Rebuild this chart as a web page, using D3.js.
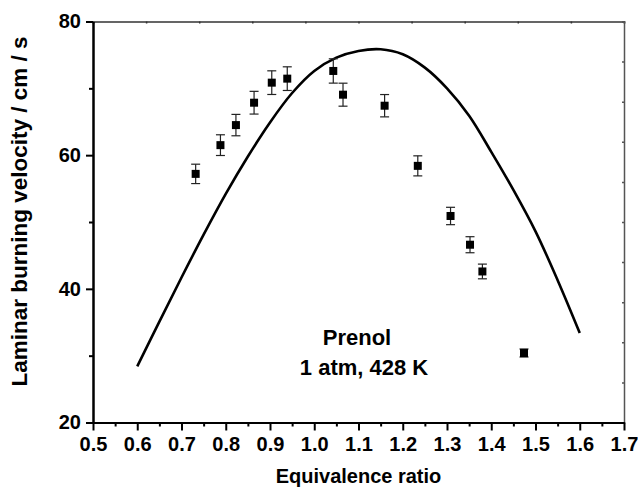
<!DOCTYPE html>
<html>
<head>
<meta charset="utf-8">
<script src="https://cdn.jsdelivr.net/npm/d3@7"></script>
<style>
  body { margin: 0; background: #fff; }
  svg { display: block; }
  text { font-family: Arial, "Liberation Sans", Helvetica, sans-serif; font-weight: bold; fill: #000; }
</style>
</head>
<body>
<div id="chart"></div>
<script>
// measured points (equivalence ratio, burning velocity, error)
const phiExp = [0.732, 0.788, 0.823, 0.864, 0.904, 0.939, 1.043, 1.065, 1.159, 1.234, 1.308, 1.352, 1.380, 1.474];
const suExp  = [57.2, 61.5, 64.5, 67.85, 70.85, 71.45, 72.6, 69.05, 67.4, 58.4, 50.9, 46.6, 42.6, 30.4];
const suErr  = [1.45, 1.55, 1.6, 1.7, 1.77, 1.77, 1.82, 1.72, 1.67, 1.5, 1.3, 1.2, 1.1, 0.6];

// model curve
const phiModel = [0.60, 0.65, 0.70, 0.75, 0.80, 0.85, 0.90, 0.95, 1.00, 1.05, 1.10, 1.15, 1.20, 1.25, 1.30, 1.35, 1.40, 1.45, 1.50, 1.55, 1.60];
const suModel  = [28.4, 35.1, 41.7, 48.1, 54.2, 59.8, 64.9, 69.3, 72.6, 74.6, 75.6, 75.85, 75.1, 73.1, 70.0, 65.9, 60.5, 54.8, 48.6, 41.3, 33.4];

const xTicks = [0.5, 0.6, 0.7, 0.8, 0.9, 1.0, 1.1, 1.2, 1.3, 1.4, 1.5, 1.6, 1.7];
const yTicks = [20, 40, 60, 80];

const width = 638, height = 488;
const margin = {top: 21.5, right: 14, bottom: 65.5, left: 93};

const svg = d3.select("#chart").append("svg")
  .attr("width", width)
  .attr("height", height);

const x = d3.scaleLinear().domain([0.5, 1.7]).range([margin.left, width - margin.right]);
const y = d3.scaleLinear().domain([20, 80]).range([height - margin.bottom, margin.top]);

// top and right frame with small inner ticks
const frac = d3.scaleLinear().domain([0, 10]);
const xF = frac.copy().range(x.range());
const yF = frac.copy().range(y.range());

svg.append("g")
  .attr("transform", `translate(0,${margin.top})`)
  .call(d3.axisTop(xF).ticks(10).tickSize(-2).tickFormat(""))
  .call(g => g.selectAll("path,line").attr("stroke", "#333").attr("stroke-width", 1.5));

svg.append("g")
  .attr("transform", `translate(${width - margin.right},0)`)
  .call(d3.axisRight(yF).ticks(10).tickSize(-2).tickFormat(""))
  .call(g => g.selectAll("path,line").attr("stroke", "#555").attr("stroke-width", 1.5));

// bottom axis: minor ticks then major ticks with labels
svg.append("g")
  .attr("transform", `translate(0,${y(20)})`)
  .call(d3.axisBottom(x).tickValues(d3.range(0.55, 1.7, 0.1)).tickSize(4).tickSizeOuter(0).tickFormat(""))
  .call(g => g.selectAll("path,line").attr("stroke", "#000").attr("stroke-width", 2));

svg.append("g")
  .attr("transform", `translate(0,${y(20)})`)
  .call(d3.axisBottom(x).tickValues(xTicks).tickSize(8).tickSizeOuter(0).tickPadding(6).tickFormat(d3.format(".1f")))
  .call(g => g.selectAll("path,line").attr("stroke", "#000").attr("stroke-width", 2))
  .call(g => g.selectAll("text").attr("font-size", 20).attr("font-family", null));

// left axis
svg.append("g")
  .attr("transform", `translate(${x(0.5)},0)`)
  .call(d3.axisLeft(y).tickValues([30, 50, 70]).tickSize(4).tickSizeOuter(0).tickFormat(""))
  .call(g => g.selectAll("path,line").attr("stroke", "#000").attr("stroke-width", 2));

svg.append("g")
  .attr("transform", `translate(${x(0.5)},0)`)
  .call(d3.axisLeft(y).tickValues(yTicks).tickSize(7).tickSizeOuter(0).tickPadding(5))
  .call(g => g.selectAll("path,line").attr("stroke", "#000").attr("stroke-width", 2))
  .call(g => g.selectAll("text").attr("font-size", 20).attr("font-family", null));

// axis titles
svg.append("text")
  .attr("x", (margin.left + width - margin.right) / 2)
  .attr("y", 483)
  .attr("text-anchor", "middle")
  .attr("font-size", 20)
  .text("Equivalence ratio");

svg.append("text")
  .attr("transform", "translate(27,211.5) rotate(-90)")
  .attr("text-anchor", "middle")
  .attr("font-size", 22.5)
  .text("Laminar burning velocity / cm / s");

// model line
const model = phiModel.map((p, i) => [p, suModel[i]]);
svg.append("path")
  .datum(model)
  .attr("fill", "none")
  .attr("stroke", "#000")
  .attr("stroke-width", 2.6)
  .attr("d", d3.line().x(d => x(d[0])).y(d => y(d[1])).curve(d3.curveCatmullRom));

// experiments with error bars
const pts = phiExp.map((p, i) => ({phi: p, su: suExp[i], err: suErr[i]}));
const eb = svg.append("g").attr("stroke", "#222").attr("stroke-width", 1.2);
eb.selectAll("line.v").data(pts).enter().append("line")
  .attr("x1", d => x(d.phi)).attr("x2", d => x(d.phi))
  .attr("y1", d => y(d.su - d.err)).attr("y2", d => y(d.su + d.err));
eb.selectAll("line.t").data(pts).enter().append("line")
  .attr("x1", d => x(d.phi) - 4.5).attr("x2", d => x(d.phi) + 4.5)
  .attr("y1", d => y(d.su + d.err)).attr("y2", d => y(d.su + d.err));
eb.selectAll("line.b").data(pts).enter().append("line")
  .attr("x1", d => x(d.phi) - 4.5).attr("x2", d => x(d.phi) + 4.5)
  .attr("y1", d => y(d.su - d.err)).attr("y2", d => y(d.su - d.err));

svg.append("g").selectAll("rect").data(pts).enter().append("rect")
  .attr("x", d => x(d.phi) - 4)
  .attr("y", d => y(d.su) - 4)
  .attr("width", 8)
  .attr("height", 8)
  .attr("fill", "#000");

// annotation
svg.append("text").attr("x", 357).attr("y", 345).attr("text-anchor", "middle")
  .attr("font-size", 22).text("Prenol");
svg.append("text").attr("x", 364).attr("y", 375).attr("text-anchor", "middle")
  .attr("font-size", 22).text("1 atm, 428 K");
</script>
</body>
</html>
